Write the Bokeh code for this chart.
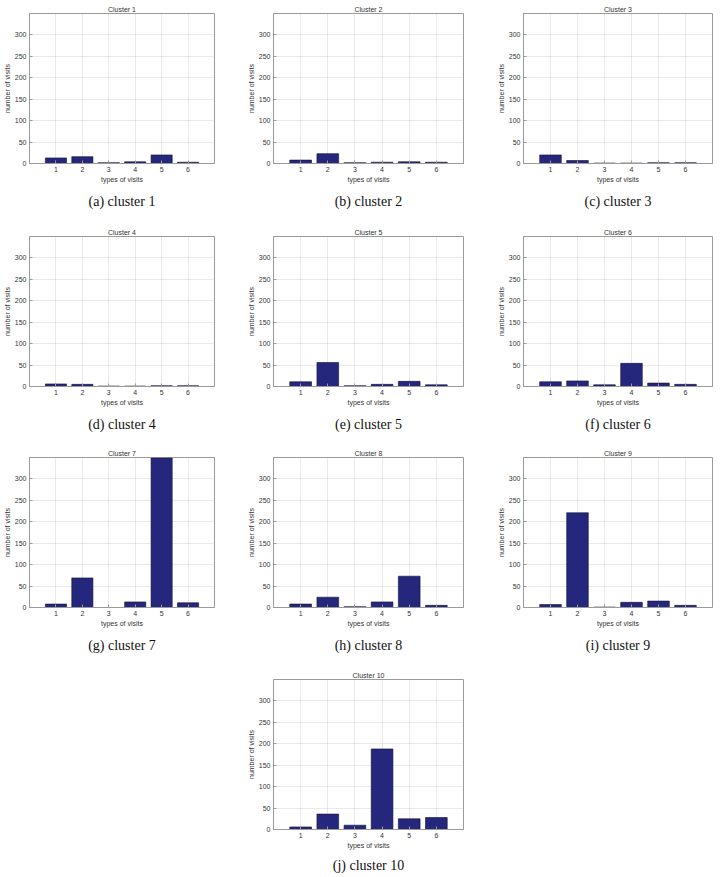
from bokeh.plotting import figure
from bokeh.models import Range1d, FixedTicker, Title, Spacer
from bokeh.layouts import row, column
from bokeh.embed import file_html
from bokeh.resources import INLINE

# ---- data ----
visit_types = [1, 2, 3, 4, 5, 6]
cluster_1 = [13, 16, 2, 4, 20, 3]
cluster_2 = [8, 23, 2, 3, 4, 3]
cluster_3 = [20, 7, 1, 1, 2, 2]
cluster_4 = [6, 5, 1, 1, 2, 2]
cluster_5 = [11, 56, 2, 5, 12, 4]
cluster_6 = [11, 13, 4, 54, 8, 5]
cluster_7 = [8, 69, 0, 13, 349, 11]
cluster_8 = [8, 24, 2, 13, 73, 5]
cluster_9 = [7, 221, 1, 12, 15, 5]
cluster_10 = [6, 36, 10, 188, 25, 28]
titles = ["Cluster 1", "Cluster 2", "Cluster 3", "Cluster 4", "Cluster 5",
          "Cluster 6", "Cluster 7", "Cluster 8", "Cluster 9", "Cluster 10"]
captions = ["(a) cluster 1", "(b) cluster 2", "(c) cluster 3", "(d) cluster 4",
            "(e) cluster 5", "(f) cluster 6", "(g) cluster 7", "(h) cluster 8",
            "(i) cluster 9", "(j) cluster 10"]
y_ticks = [0, 50, 100, 150, 200, 250, 300]
all_values = [cluster_1, cluster_2, cluster_3, cluster_4, cluster_5,
              cluster_6, cluster_7, cluster_8, cluster_9, cluster_10]

BAR = "#25277d"
SANS = "Liberation Sans"
SERIF = "Liberation Serif"

# column geometry: (width, left border, right border)
COLS = [(240, 27, 26), (240, 33, 17), (241, 43, 9)]
ROW_H = [223, 221, 222, 211]
BOT = [60, 58, 59, 48]
CAP_STANDOFF = [12, 12, 12, 8]


def make(i, col, r):
    w, bl, br = COLS[col]
    p = figure(width=w, height=ROW_H[r], output_backend="svg", toolbar_location=None,
               x_range=Range1d(0, 7), y_range=Range1d(0, 350),
               min_border_left=bl, min_border_right=br, min_border_top=13,
               min_border_bottom=BOT[r], tools="")
    p.vbar(x=visit_types, top=all_values[i], width=0.8, bottom=0,
           fill_color=BAR, line_color="#111133", line_width=0.6)
    p.title.text = titles[i]
    p.title.align = "center"
    p.title.text_font = SANS
    p.title.text_font_size = "7px"
    p.title.text_font_style = "normal"
    p.title.text_color = "#333333"
    p.title.standoff = 2
    p.outline_line_color = "#9a9a9a"
    p.outline_line_width = 1
    p.background_fill_color = "white"
    p.border_fill_color = "white"
    for ax in (p.xaxis[0], p.yaxis[0]):
        ax.major_label_text_font = SANS
        ax.major_label_text_font_size = "7px"
        ax.major_label_text_color = "#333333"
        ax.axis_label_text_font = SANS
        ax.axis_label_text_font_size = "7px"
        ax.axis_label_text_font_style = "normal"
        ax.axis_label_text_color = "#333333"
        ax.axis_line_color = "#9a9a9a"
        ax.major_tick_line_color = "#9a9a9a"
        ax.major_tick_in = 3
        ax.major_tick_out = 0
        ax.minor_tick_line_color = None
        ax.major_label_standoff = 3
        ax.axis_label_standoff = 1
    p.xaxis.ticker = FixedTicker(ticks=visit_types)
    p.yaxis.ticker = FixedTicker(ticks=y_ticks)
    p.xaxis.axis_label = "types of visits"
    p.yaxis.axis_label = "number of visits"
    p.xaxis.axis_label_standoff = 1
    for g in (p.xgrid[0], p.ygrid[0]):
        g.grid_line_color = "#c8c8c8"
        g.grid_line_dash = "1 1"
        g.grid_line_width = 0.8
    p.ygrid.ticker = FixedTicker(ticks=y_ticks)
    p.xgrid.ticker = FixedTicker(ticks=visit_types)
    cap = Title(text=captions[i], align="center", text_font=SERIF,
                text_font_size="14px", text_font_style="normal",
                text_color="#111111", standoff=CAP_STANDOFF[r])
    p.add_layout(cap, "below")
    return p


figs = []
for i in range(9):
    figs.append(make(i, i % 3, i // 3))
p10 = make(9, 1, 3)

layout = column(
    row(figs[0], figs[1], figs[2]),
    row(figs[3], figs[4], figs[5]),
    row(figs[6], figs[7], figs[8]),
    row(Spacer(width=COLS[0][0], height=ROW_H[3]), p10),
)

open("out.html", "w").write(file_html(layout, INLINE))
